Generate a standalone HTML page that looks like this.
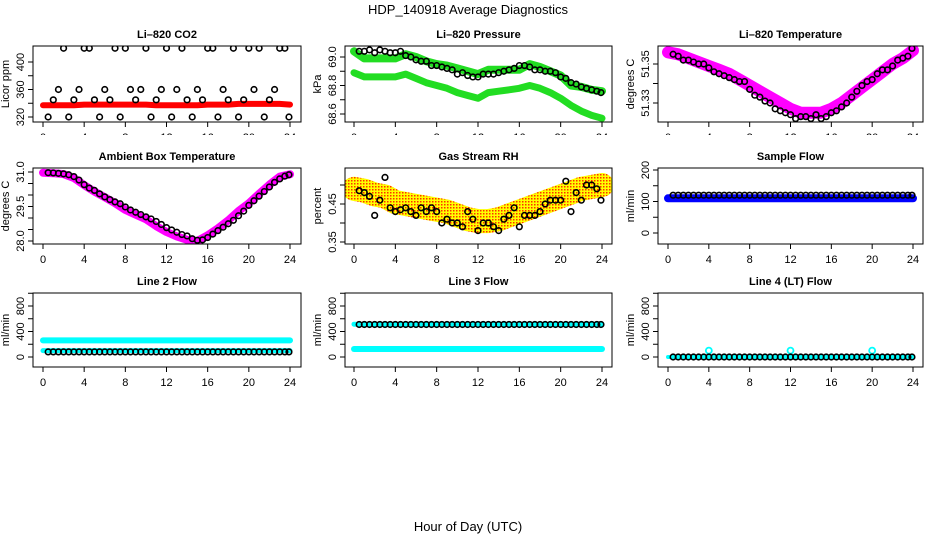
<!DOCTYPE html>
<html><head><meta charset="utf-8">
<style>
body{margin:0;background:#fff;}
svg{display:block;font-family:"Liberation Sans",sans-serif;}
</style></head>
<body>
<svg id="c" width="936" height="540" viewBox="0 0 936 540">
<defs>
<pattern id="rhpat" width="3" height="3" patternUnits="userSpaceOnUse">
<rect width="3" height="3" fill="#ffff00"/><rect x="0" y="0" width="1.5" height="1.5" fill="#ff3000"/>
</pattern>
</defs>
<text x="468" y="14" text-anchor="middle" font-size="13">HDP_140918  Average Diagnostics</text>
<text x="468" y="531" text-anchor="middle" font-size="13">Hour of Day (UTC)</text>
</svg>
<script>
// ---- data ----
const hourTicks = [0,4,8,12,16,20,24];
const hourly = [0,1,2,3,4,5,6,7,8,9,10,11,12,13,14,15,16,17,18,19,20,21,22,23,24];
const halfHours = [0.5,1,1.5,2,2.5,3,3.5,4,4.5,5,5.5,6,6.5,7,7.5,8,8.5,9,9.5,10,10.5,11,11.5,12,12.5,13,13.5,14,14.5,15,15.5,16,16.5,17,17.5,18,18.5,19,19.5,20,20.5,21,21.5,22,22.5,23,23.5,23.9];

const co2Band = [337,337,337,337,338,338,338,338,338,338,338,337,337,337,337,337,338,338,338,339,339,339,339,339,338];
const co2Black = [320,345,360,420,320,345,360,420,420,345,320,360,345,420,320,420,360,345,360,420,320,345,360,420,320,360,420,345,320,360,345,420,420,320,360,345,420,320,345,420,360,420,320,345,360,420,420,320];

const presUpper = [69.04,68.99,68.99,68.99,68.99,69.02,69.00,68.97,68.95,68.94,68.92,68.90,68.88,68.91,68.91,68.91,68.91,68.95,68.93,68.90,68.87,68.80,68.79,68.77,68.76];
const presLower = [68.89,68.86,68.86,68.86,68.86,68.88,68.85,68.82,68.80,68.78,68.75,68.73,68.71,68.75,68.76,68.77,68.78,68.80,68.78,68.75,68.71,68.66,68.62,68.59,68.57];
const presBlack = [69.04,69.04,69.05,69.03,69.05,69.04,69.03,69.03,69.04,69.01,69.00,68.98,68.97,68.97,68.94,68.94,68.93,68.92,68.91,68.88,68.89,68.87,68.86,68.86,68.88,68.88,68.88,68.89,68.90,68.91,68.92,68.94,68.94,68.93,68.91,68.91,68.90,68.90,68.89,68.86,68.85,68.82,68.81,68.79,68.78,68.77,68.76,68.75];

const ltBand = [51.356,51.355,51.353,51.351,51.349,51.347,51.345,51.342,51.339,51.336,51.333,51.330,51.327,51.325,51.325,51.325,51.327,51.330,51.334,51.338,51.342,51.346,51.350,51.353,51.357];
const ltBlack = [51.355,51.354,51.352,51.352,51.351,51.350,51.350,51.348,51.346,51.345,51.344,51.343,51.342,51.341,51.341,51.337,51.334,51.333,51.331,51.330,51.327,51.326,51.325,51.324,51.322,51.323,51.323,51.322,51.324,51.322,51.323,51.325,51.326,51.328,51.330,51.333,51.336,51.339,51.341,51.342,51.345,51.347,51.347,51.349,51.352,51.353,51.354,51.358];

const ambBand = [30.97,30.95,30.91,30.74,30.43,30.15,29.90,29.65,29.35,29.15,28.95,28.65,28.39,28.20,28.05,28.00,28.25,28.55,28.90,29.30,29.64,30.05,30.45,30.80,30.90];
const ambBlack = [30.97,30.96,30.94,30.92,30.88,30.80,30.65,30.45,30.30,30.20,30.05,29.92,29.80,29.70,29.62,29.48,29.35,29.25,29.15,29.05,28.96,28.85,28.72,28.58,28.48,28.38,28.28,28.22,28.10,28.03,28.05,28.15,28.30,28.45,28.60,28.75,28.90,29.10,29.30,29.55,29.75,29.95,30.15,30.35,30.55,30.70,30.82,30.88];

const rhBand = [0.49,0.485,0.475,0.47,0.455,0.45,0.445,0.44,0.435,0.43,0.42,0.41,0.405,0.405,0.41,0.42,0.43,0.44,0.45,0.46,0.47,0.48,0.49,0.495,0.50];
const rhBlack = [0.485,0.48,0.47,0.42,0.46,0.52,0.44,0.43,0.435,0.44,0.43,0.42,0.44,0.43,0.44,0.43,0.40,0.41,0.40,0.40,0.39,0.43,0.41,0.38,0.40,0.40,0.39,0.38,0.41,0.42,0.44,0.39,0.42,0.42,0.42,0.43,0.45,0.46,0.46,0.46,0.51,0.43,0.48,0.46,0.50,0.50,0.49,0.46];

const sfBand = [110,110,110,110,110,110,110,110,110,110,110,110,110,110,110,110,110,110,110,110,110,110,110,110,110];
const sfBlack = new Array(48).fill(120);

const l2Upper = [260,260,260,260,260,260,260,260,260,260,260,260,260,260,260,260,260,260,260,260,260,260,260,260,260];
const l2Lower = [100,100,100,100,100,100,100,100,100,100,100,100,100,100,100,100,100,100,100,100,100,100,100,100,100];
const l2Black = new Array(48).fill(80);

const l3Upper = [515,515,515,515,515,515,515,515,515,515,515,515,515,515,515,515,515,515,515,515,515,515,515,515,515];
const l3Lower = [125,125,125,125,125,125,125,125,125,125,125,125,125,125,125,125,125,125,125,125,125,125,125,125,125];
const l3Black = new Array(48).fill(510);

const l4Cyan = [0,0,0,0,0,0,0,0,0,0,0,0,0,0,0,0,0,0,0,0,0,0,0,0,0];
const l4SpikeHours = [4,12,20];
const l4SpikeVals = [100,100,100];
const l4Black = new Array(48).fill(0);

// ---- layout ----
const svg = document.getElementById('c');
const NS = 'http://www.w3.org/2000/svg';
const cols = [{l:33,r:301,x0:43,x24:290},{l:345,r:612,x0:354,x24:602},{l:658,r:923,x0:668,x24:913}];
const rows = [{t:46,b:122},{t:168,b:244},{t:293,b:367}];

function mk(tag, attrs, parent){
  const e = document.createElementNS(NS, tag);
  for (const k in attrs) e.setAttribute(k, attrs[k]);
  (parent||svg).appendChild(e);
  return e;
}

function panel(ci, ri, cfg){
  const c = cols[ci], r = rows[ri];
  const g = mk('g', {});
  
  
  const xs = h => c.x0 + h*(c.x24-c.x0)/24;
  const ys = v => cfg.yA + (v-cfg.vA)*(cfg.yB-cfg.yA)/(cfg.vB-cfg.vA);
  const t = mk('text', {x:(c.l+c.r)/2, y:r.t-8, 'text-anchor':'middle','font-size':11,'font-weight':'bold'}, g);
  t.textContent = cfg.title;
  
  
  // clip
  const cid = 'clip'+ci+ri;
  const cp = mk('clipPath', {id:cid}, g);
  mk('rect', {x:c.l, y:r.t, width:c.r-c.l, height:r.b-r.t}, cp);
  const data = mk('g', {'clip-path':'url(#'+cid+')'}, g);
  // bands
  (cfg.bands||[]).forEach((b,bi)=>{
    const pts = hourly.map((h,i)=>xs(h).toFixed(1)+','+ys(b.vals[i]).toFixed(1)).join(' ');
    const p = mk('polyline', {points:pts, fill:'none', stroke:b.color, 'stroke-width':b.w, 'stroke-linejoin':'round','stroke-linecap':'round'}, data);
    
    
  });
  (cfg.extra||[]).forEach(e=>{
    e.hours.forEach((h,i)=>{
      const ci2 = mk('circle', {cx:xs(h), cy:ys(e.vals[i]), r:3, fill:'none', stroke:e.color, 'stroke-width':1.8}, data);
      
      
    });
  });
  // black circles
  halfHours.forEach((h,i)=>{
    const ci3 = mk('circle', {cx:xs(h), cy:ys(cfg.black[i]), r:2.8, fill:'none', stroke:'#000', 'stroke-width':1.6}, data);
    
    
  });
  // box
  const bx = mk('rect', {x:c.l, y:r.t, width:c.r-c.l, height:r.b-r.t, fill:'none', stroke:'#000','stroke-width':1}, g);
  
  
  // x axis
  const xa = mk('g', {}, g);
  
  
  mk('line', {x1:xs(0), x2:xs(24), y1:r.b, y2:r.b, stroke:'#000'}, xa);
  hourTicks.forEach(h=>{
    mk('line', {x1:xs(h), x2:xs(h), y1:r.b, y2:r.b+5, stroke:'#000'}, xa);
    const tl = mk('text', {x:xs(h), y:r.b+19, 'text-anchor':'middle','font-size':11}, xa);
    tl.textContent = h;
  });
  // y axis
  const ya = mk('g', {}, g);
  
  
  const yt = cfg.ticks;
  mk('line', {x1:c.l, x2:c.l, y1:ys(yt[0]), y2:ys(yt[yt.length-1]), stroke:'#000'}, ya);
  yt.forEach(v=>{
    mk('line', {x1:c.l-5, x2:c.l, y1:ys(v), y2:ys(v), stroke:'#000'}, ya);
  });
  cfg.labels.forEach(v=>{
    const lx = c.l-9, ly = ys(v);
    const tl = mk('text', {x:lx, y:ly, 'text-anchor':'middle','font-size':11, transform:'rotate(-90 '+lx+' '+ly+')'}, ya);
    tl.textContent = cfg.fmt ? cfg.fmt(v) : v;
  });
  const ax = c.l-24, ay = (r.t+r.b)/2;
  const at = mk('text', {x:ax, y:ay, 'text-anchor':'middle','font-size':11, transform:'rotate(-90 '+ax+' '+ay+')'}, g);
  at.textContent = cfg.ylab;
  
  
}

panel(0,0,{name:'co2',title:'Li\u2013820 CO2',ylab:'Licor ppm',vA:320,yA:117,vB:400,yB:62,ticks:[320,340,360,380,400],labels:[320,360,400],
  bands:[{vals:co2Band,color:'#ff0000',w:6}],black:co2Black});
panel(1,0,{name:'pressure',title:'Li\u2013820 Pressure',ylab:'kPa',vA:69.0,yA:57,vB:68.6,yB:114,ticks:[68.6,68.7,68.8,68.9,69.0],labels:[68.6,68.8,69.0],fmt:v=>v.toFixed(1),
  bands:[{vals:presUpper,color:'#22dd22',w:8},{vals:presLower,color:'#22dd22',w:7}],black:presBlack});
panel(2,0,{name:'li-temp',title:'Li\u2013820 Temperature',ylab:'degrees C',vA:51.35,yA:64,vB:51.33,yB:103,ticks:[51.33,51.34,51.35],labels:[51.33,51.35],fmt:v=>v.toFixed(2),
  bands:[{vals:ltBand,color:'#ff00ff',w:12}],black:ltBlack});
panel(0,1,{name:'ambient',title:'Ambient Box Temperature',ylab:'degrees C',vA:31,yA:172,vB:28,yB:241,ticks:[28,28.5,29,29.5,30,30.5,31],labels:[28,29.5,31],fmt:v=>v.toFixed(1),
  bands:[{vals:ambBand,color:'#ff00ff',w:8}],black:ambBlack});
panel(1,1,{name:'rh',title:'Gas Stream RH',ylab:'percent',vA:0.45,yA:204,vB:0.35,yB:242,ticks:[0.35,0.40,0.45,0.50],labels:[0.35,0.45],fmt:v=>v.toFixed(2),
  bands:[{vals:rhBand,color:'url(#rhpat)',w:24}],black:rhBlack});
panel(2,1,{name:'sample-flow',title:'Sample Flow',ylab:'ml/min',vA:200,yA:170,vB:0,yB:233,ticks:[0,50,100,150,200],labels:[0,100,200],
  bands:[{vals:sfBand,color:'#0000ff',w:8}],black:sfBlack});
panel(0,2,{name:'line2-flow',title:'Line 2 Flow',ylab:'ml/min',vA:0,yA:357,vB:800,yB:306,ticks:[0,200,400,600,800,1000],labels:[0,400,800],
  bands:[{vals:l2Upper,color:'#00ffff',w:6},{vals:l2Lower,color:'#00ffff',w:5}],black:l2Black});
panel(1,2,{name:'line3-flow',title:'Line 3 Flow',ylab:'ml/min',vA:0,yA:357,vB:800,yB:306,ticks:[0,200,400,600,800,1000],labels:[0,400,800],
  bands:[{vals:l3Upper,color:'#00ffff',w:5},{vals:l3Lower,color:'#00ffff',w:6}],black:l3Black});
panel(2,2,{name:'line4-flow',title:'Line 4 (LT) Flow',ylab:'ml/min',vA:0,yA:357,vB:800,yB:306,ticks:[0,200,400,600,800,1000],labels:[0,400,800],
  bands:[{vals:l4Cyan,color:'#00ffff',w:4}],extra:[{hours:l4SpikeHours,vals:l4SpikeVals,color:'#00ffff'}],black:l4Black});

// row-1 tick labels are clipped in the reference
const cover = mk('rect', {x:0, y:135, width:936, height:12, fill:'#fff'});


</script>
</body></html>
